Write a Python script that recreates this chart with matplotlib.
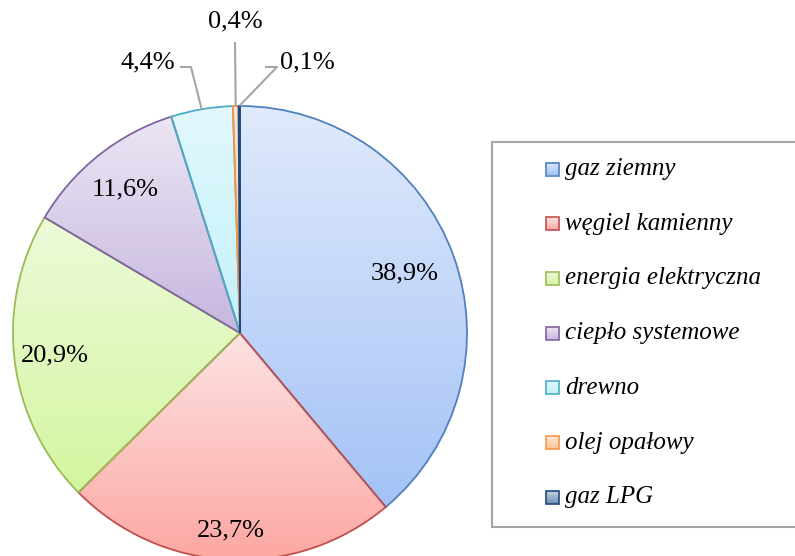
import numpy as np
import matplotlib
matplotlib.use("Agg")
import matplotlib.pyplot as plt
from matplotlib.patches import Rectangle
import matplotlib.colors as mcolors

# data
categories = ["gaz ziemny", "węgiel kamienny", "energia elektryczna",
              "ciepło systemowe", "drewno", "olej opałowy", "gaz LPG"]
shares = [38.9, 23.7, 20.9, 11.6, 4.4, 0.4, 0.1]
pct_labels = ["38,9%", "23,7%", "20,9%", "11,6%", "4,4%", "0,4%", "0,1%"]

# styling
edge_colors = ["#4f81bd", "#c0504d", "#9bbb59", "#8064a2", "#4bacc6", "#f79646", "#1f497d"]
top_colors = ["#e0eafc", "#fde3e3", "#eefad9", "#ece6f4", "#e2f8fd", "#fde6d4", "#c9d3e0"]
bottom_colors = ["#a4c2f6", "#fca7a2", "#d3f6a0", "#c6b6df", "#c3f1fa", "#fbc394", "#6f8db0"]
label_dist = [0.77, 0.87, 0.82, 0.81]

W, H = 795, 556
cx, cy, R = 240, H - 333, 227
plt.rcParams["font.family"] = ["Liberation Serif", "DejaVu Serif"]

fig = plt.figure(figsize=(W / 100, H / 100), dpi=100)
ax = fig.add_axes([0, 0, 1, 1])
wedges, _ = ax.pie(shares, startangle=90, counterclock=False, center=(cx, cy),
                   radius=R, wedgeprops=dict(linewidth=1.3))
ax.set_xlim(0, W)
ax.set_ylim(0, H)
ax.set_aspect("equal")
ax.axis("off")


def vgrad(c_top, c_bot, n=256):
    t = np.linspace(0, 1, n)[:, None]
    a = np.array(mcolors.to_rgb(c_top))
    b = np.array(mcolors.to_rgb(c_bot))
    return (a * (1 - t) + b * t)[:, None, :].repeat(2, axis=1)


for i, w in enumerate(wedges):
    w.set_facecolor("none")
    w.set_edgecolor(edge_colors[i])
    w.set_zorder(3)
    bb = w.get_path().get_extents(w.get_patch_transform())
    img = ax.imshow(vgrad(top_colors[i], bottom_colors[i]),
                    extent=[bb.x0, bb.x1, bb.y0, bb.y1], origin="upper",
                    aspect="auto", zorder=2, interpolation="bilinear")
    img.set_clip_path(w)

# percentage labels inside
for i in range(4):
    w = wedges[i]
    mid = np.deg2rad((w.theta1 + w.theta2) / 2)
    ax.text(cx + label_dist[i] * R * np.cos(mid), cy + label_dist[i] * R * np.sin(mid),
            pct_labels[i], ha="center", va="center", fontsize=19, zorder=5)

# outside labels with leader lines: (line start, elbow, text anchor, ha)
outside = {4: ((180, H - 67), (191, H - 67), (175, H - 62), "right"),
           5: (None, (235, H - 42), (235, H - 21), "center"),
           6: ((265, H - 67), (277, H - 67), (280, H - 62), "left")}
for i, (start, elbow, tx, ha) in outside.items():
    w = wedges[i]
    mid = np.deg2rad((w.theta1 + w.theta2) / 2)
    ex, ey = cx + R * np.cos(mid), cy + R * np.sin(mid)
    pts = ([start] if start else []) + [elbow, (ex, ey)]
    xs, ys = zip(*pts)
    ax.plot(xs, ys, color="#a6a6a6", lw=1.5, zorder=4, solid_capstyle="butt")
    ax.text(tx[0], tx[1], pct_labels[i], ha=ha, va="center", fontsize=19, zorder=5)

# legend box
ax.add_patch(Rectangle((492, H - 527), 320, 385, facecolor="white",
                       edgecolor="#a6a6a6", lw=1.5, zorder=1, clip_on=False))
y0, dy = 169, 54.7
for i, name in enumerate(categories):
    yy = H - (y0 + i * dy)
    ax.imshow(vgrad(top_colors[i], bottom_colors[i]),
              extent=[546, 559, yy - 6.5, yy + 6.5], origin="upper", aspect="auto",
              zorder=6, interpolation="bilinear")
    ax.add_patch(Rectangle((546, yy - 6.5), 13, 13, facecolor="none",
                           edgecolor=edge_colors[i], lw=1.2, zorder=7))
    ax.text(565, yy, name, ha="left", va="center", fontsize=18, style="italic", zorder=7)

ax.set_xlim(0, W)
ax.set_ylim(0, H)
fig.savefig("out.png", dpi=100)
